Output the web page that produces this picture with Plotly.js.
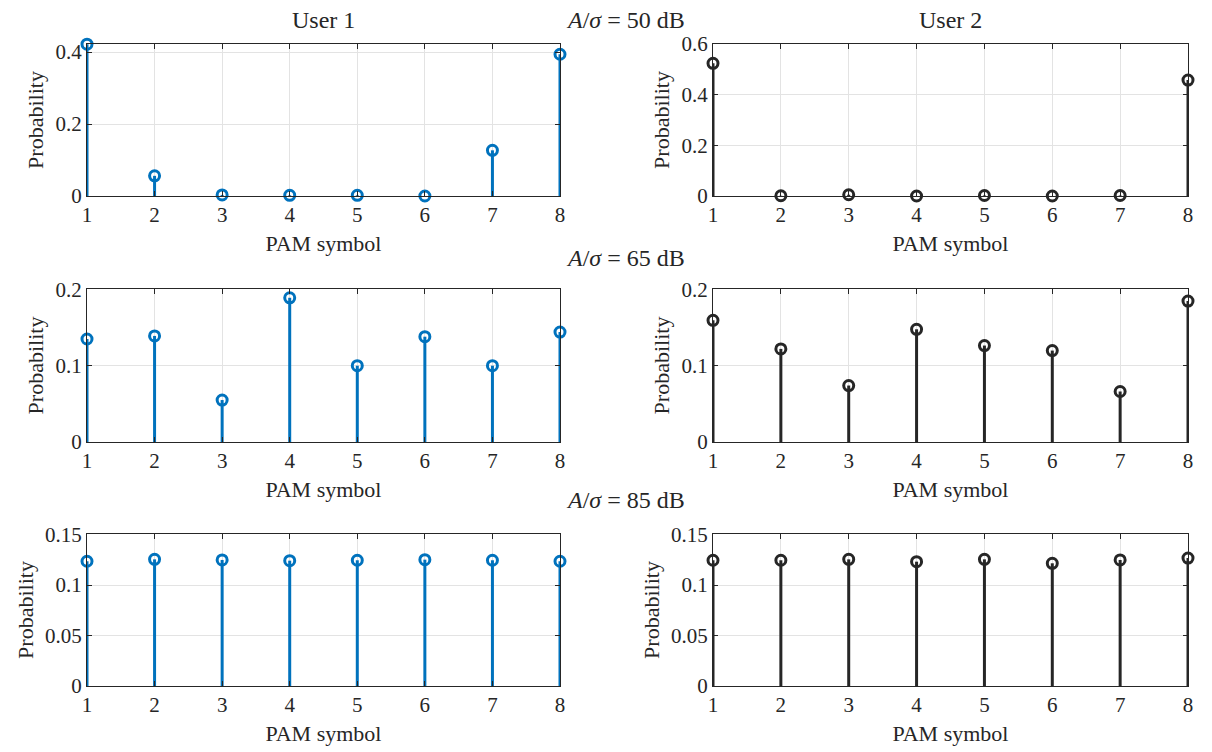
<!DOCTYPE html>
<html>
<head>
<meta charset="utf-8">
<script src="https://cdn.plot.ly/plotly-3.0.1.min.js"></script>
<style>html,body{margin:0;padding:0;background:#fff;}#chart{width:1212px;height:752px;}</style>
</head>
<body>
<div id="chart"></div>
<script>
// PAM symbols (x)
const symbols = [1, 2, 3, 4, 5, 6, 7, 8];
// A/sigma levels
const snrLabels = ["50 dB", "65 dB", "85 dB"];
// User 1 probabilities
const user1_50 = [0.422, 0.056, 0.003, 0.002, 0.002, 0.0, 0.127, 0.394];
const user1_65 = [0.135, 0.139, 0.055, 0.189, 0.100, 0.138, 0.100, 0.144];
const user1_85 = [0.1235, 0.1254, 0.1248, 0.1241, 0.1245, 0.1251, 0.1245, 0.1235];
// User 2 probabilities
const user2_50 = [0.524, 0.001, 0.005, 0.0, 0.002, 0.0, 0.002, 0.458];
const user2_65 = [0.1595, 0.122, 0.074, 0.1477, 0.1264, 0.1198, 0.0662, 0.1847];
const user2_85 = [0.1245, 0.1245, 0.1254, 0.1231, 0.1254, 0.1215, 0.1248, 0.1267];
// y-axis upper limits and tick steps per panel
const yMax = [[0.422, 0.6], [0.2, 0.2], [0.15, 0.15]];
const yStep = [[0.2, 0.2], [0.1, 0.1], [0.05, 0.05]];

const blue = "#0072BD";
const dark = "#262626";
const fontFam = "'Liberation Serif', 'Times New Roman', serif";

const panels = [
  [user1_50, user2_50],
  [user1_65, user2_65],
  [user1_85, user2_85]
];

const W = 1212, H = 752;
const xDom = [[87 / W, 560 / W], [713 / W, 1188 / W]];
const rowPx = [[44, 196], [289, 442], [534, 686]];

const traces = [];
const layout = {
  width: W, height: H,
  margin: {l: 0, r: 0, t: 0, b: 0},
  paper_bgcolor: "#fff",
  plot_bgcolor: "#fff",
  showlegend: false,
  font: {family: fontFam, size: 21, color: dark},
  annotations: []
};

let idx = 0;
for (let r = 0; r < 3; r++) {
  for (let c = 0; c < 2; c++) {
    idx++;
    const vals = panels[r][c];
    const color = c === 0 ? blue : dark;
    const xa = idx === 1 ? "x" : "x" + idx;
    const ya = idx === 1 ? "y" : "y" + idx;
    // stems built from data
    const sx = [], sy = [];
    symbols.forEach((s, i) => { sx.push(s, s, null); sy.push(0, vals[i], null); });
    traces.push({
      type: "scatter", mode: "lines", x: sx, y: sy, xaxis: xa, yaxis: ya,
      line: {color: color, width: 3}, cliponaxis: false, hoverinfo: "skip"
    });
    traces.push({
      type: "scatter", mode: "markers", x: symbols, y: vals, xaxis: xa, yaxis: ya,
      marker: {symbol: "circle-open", size: 10, color: color, line: {color: color, width: 3}},
      cliponaxis: false
    });
    const axCommon = {
      showline: true, linecolor: dark, linewidth: 1, mirror: "ticks",
      ticks: "inside", ticklen: 5, tickcolor: dark,
      showgrid: true, gridcolor: "#e3e3e3", gridwidth: 1,
      zeroline: false, tickfont: {family: fontFam, size: 21, color: dark}
    };
    const yDom = [1 - rowPx[r][1] / H, 1 - rowPx[r][0] / H];
    layout["xaxis" + (idx === 1 ? "" : idx)] = Object.assign({}, axCommon, {
      domain: xDom[c], anchor: ya, range: [1, 8], tick0: 1, dtick: 1,
      title: {text: "PAM symbol", standoff: 9, font: {family: fontFam, size: 22, color: dark}}
    });
    layout["yaxis" + (idx === 1 ? "" : idx)] = Object.assign({}, axCommon, {
      domain: yDom, anchor: xa, range: [0, yMax[r][c] + 0.0005], tick0: 0, dtick: yStep[r][c],
      title: {text: "Probability", standoff: 5, font: {family: fontFam, size: 22, color: dark}}
    });
  }
}

// Column titles
layout.annotations.push({text: "User 1", xref: "paper", yref: "paper", x: (87 + 560) / 2 / W, y: 1 - 20 / H,
  showarrow: false, xanchor: "center", yanchor: "middle", font: {family: fontFam, size: 24, color: dark}});
layout.annotations.push({text: "User 2", xref: "paper", yref: "paper", x: (713 + 1188) / 2 / W, y: 1 - 20 / H,
  showarrow: false, xanchor: "center", yanchor: "middle", font: {family: fontFam, size: 24, color: dark}});
// Row titles
const rowTitleY = [20, 258, 500];
snrLabels.forEach((lab, r) => {
  layout.annotations.push({text: "<i>A</i>/<i>σ</i> = " + lab, xref: "paper", yref: "paper",
    x: 625 / W, y: 1 - rowTitleY[r] / H, showarrow: false, xanchor: "center", yanchor: "middle",
    font: {family: fontFam, size: 24, color: dark}});
});

Plotly.newPlot("chart", traces, layout, {displayModeBar: false, staticPlot: true});
</script>
</body>
</html>
